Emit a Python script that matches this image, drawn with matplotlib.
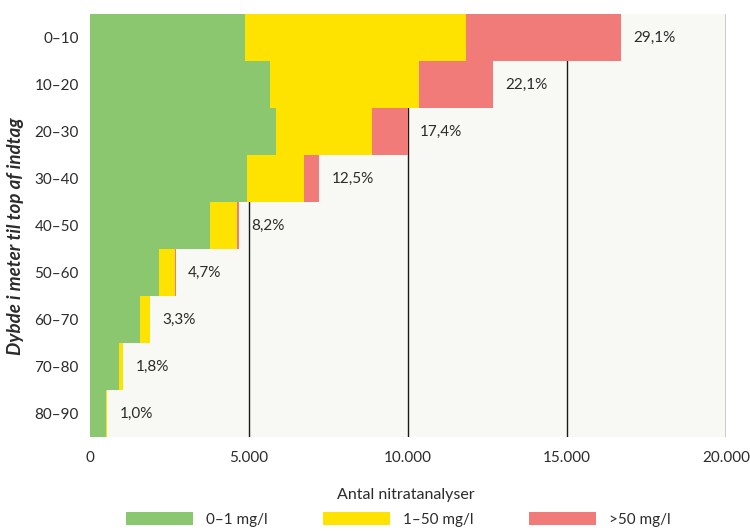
import matplotlib
matplotlib.use("Agg")
import matplotlib.pyplot as plt
from matplotlib.ticker import FuncFormatter

# data (antal nitratanalyser pr. dybdeinterval)
depths = ["0–10", "10–20", "20–30", "30–40", "40–50",
          "50–60", "60–70", "70–80", "80–90"]
low = [4870, 5660, 5850, 4940, 3760, 2170, 1570, 910, 500]      # 0-1 mg/l
mid = [6950, 4690, 3020, 1780, 860, 500, 315, 125, 30]          # 1-50 mg/l
high = [4880, 2310, 1120, 480, 60, 20, 5, 3, 0]                 # >50 mg/l
shares = ["29,1%", "22,1%", "17,4%", "12,5%", "8,2%",
          "4,7%", "3,3%", "1,8%", "1,0%"]
series_names = ["0–1 mg/l", "1–50 mg/l", ">50 mg/l"]

colors = ["#8bc76e", "#ffe300", "#f07b78"]
text_col = "#2b2b2b"

plt.rcParams["font.family"] = ["Lato", "DejaVu Sans"]
plt.rcParams["font.size"] = 11

fig = plt.figure(figsize=(7.5, 5.31), dpi=100)
ax = fig.add_axes([0.12, 0.177, 0.848, 0.7966])
ax.set_facecolor("#f8f8f4")

y = list(range(len(depths)))
left = [0] * len(depths)
for vals, col, name in zip([low, mid, high], colors, series_names):
    ax.barh(y, vals, left=left, height=1.0, color=col, label=name,
            edgecolor="none", zorder=2)
    left = [l + v for l, v in zip(left, vals)]

for i, (tot, lab) in enumerate(zip(left, shares)):
    ax.annotate(lab, (tot, i), xytext=(9, 0), textcoords="offset points",
                ha="left", va="center", color=text_col, fontsize=11)

ax.set_xlim(0, 20000)
ax.set_ylim(len(depths) - 0.5, -0.5)
ax.set_yticks(y)
ax.set_yticklabels(depths)
ax.set_xticks([0, 5000, 10000, 15000, 20000])
ax.xaxis.set_major_formatter(FuncFormatter(lambda v, p: f"{int(v):,}".replace(",", ".")))
ax.tick_params(axis="both", length=0, colors=text_col, labelsize=11)
ax.tick_params(axis="x", pad=10)
ax.tick_params(axis="y", pad=8)

ax.grid(axis="x", color="#1a1a1a", linewidth=1)
ax.grid(axis="y", visible=False)
ax.set_axisbelow(True)
for s in ax.spines.values():
    s.set_visible(False)

ax.set_ylabel("Dybde i meter til top af indtag", fontsize=13.5, fontweight="bold",
              fontstyle="italic", color=text_col)
ax.yaxis.set_label_coords(-0.104, 0.474)
fig.text(0.541, 1 - 495 / 531, "Antal nitratanalyser", ha="center", va="center",
         color=text_col, fontsize=11.5)

fig.legend(loc="center", bbox_to_anchor=(0.531, 1 - 519.7 / 531), ncol=3,
           frameon=False, handlelength=4.4, handleheight=0.9, handletextpad=0.85,
           columnspacing=3.6, borderpad=0, labelcolor=text_col, fontsize=11)

fig.savefig("out.png", dpi=100, facecolor="white")
